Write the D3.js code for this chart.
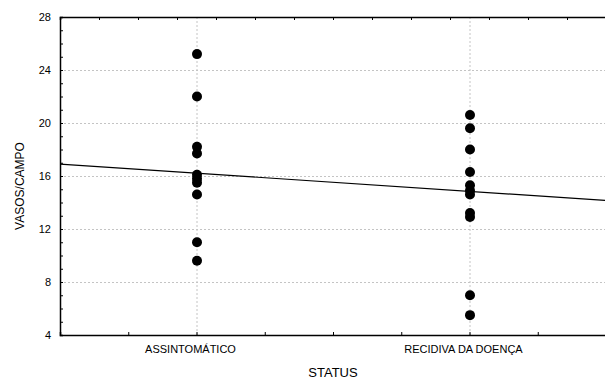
<!DOCTYPE html>
<html>
<head>
<meta charset="utf-8">
<script src="https://cdn.jsdelivr.net/npm/d3@7"></script>
<style>
  body { margin: 0; background: #fff; }
  text { font-family: "Liberation Sans", Arial, sans-serif; fill: #000; }
</style>
</head>
<body>
<div id="chart"></div>
<script>
var width = 605;
var height = 380;

// data
var categories = ["ASSINTOMÁTICO", "RECIDIVA DA DOENÇA"];
var assintomatico = [25.2, 22.0, 18.2, 17.7, 16.1, 15.8, 15.5, 14.6, 11.0, 9.6];
var recidiva = [20.6, 19.6, 18.0, 16.3, 15.3, 14.9, 14.6, 13.2, 12.9, 7.0, 5.5];
var fitX = [-0.5, 1.5];
var fitY = [16.9, 14.15];
var yTicks = [4, 8, 12, 16, 20, 24, 28];

var plotLeft = 60, plotTop = 17, plotRight = 606, plotBottom = 335;

var x = d3.scaleLinear().domain([-0.5, 1.5]).range([plotLeft, plotRight]);
var y = d3.scaleLinear().domain([4, 28]).range([plotBottom, plotTop]);

var svg = d3.select("#chart")
   .append("svg")
   .attr("width", width)
   .attr("height", height);

// grid
svg.append("g")
   .selectAll("line")
   .data(yTicks.slice(1, -1))
   .enter()
   .append("line")
   .attr("x1", plotLeft).attr("x2", plotRight)
   .attr("y1", function(d) { return y(d) + 0.5; })
   .attr("y2", function(d) { return y(d) + 0.5; })
   .attr("stroke", "#c4c4c4")
   .attr("stroke-dasharray", "2,2");

svg.append("g")
   .selectAll("line")
   .data(categories)
   .enter()
   .append("line")
   .attr("x1", function(d, i) { return x(i) + 0.5; })
   .attr("x2", function(d, i) { return x(i) + 0.5; })
   .attr("y1", plotTop).attr("y2", plotBottom)
   .attr("stroke", "#c4c4c4")
   .attr("stroke-dasharray", "2,2");

// axes
var yAxis = d3.axisLeft(y)
   .tickValues(d3.range(4, 29, 1))
   .tickSize(-3)
   .tickPadding(9)
   .tickFormat(function(d) { return d % 4 == 0 ? d : ""; });

svg.append("g")
   .attr("transform", "translate(" + plotLeft + ",0)")
   .call(yAxis)
   .call(function(g) {
      g.select(".domain").attr("stroke", "#000").attr("stroke-width", 1.5);
      g.selectAll("text").attr("font-size", "11px").attr("font-family", "Liberation Sans, Arial, sans-serif");
   });

var xAxis = d3.axisBottom(x)
   .tickValues(d3.range(-0.5, 1.51, 0.25))
   .tickSize(-3)
   .tickFormat("");

svg.append("g")
   .attr("transform", "translate(0," + plotBottom + ")")
   .call(xAxis)
   .call(function(g) {
      g.select(".domain").attr("stroke", "#000").attr("stroke-width", 1.5);
   });

var xTop = d3.axisTop(x)
   .tickValues(d3.range(0, 15).map(function(k) { return -0.5 + k / 7; }))
   .tickSize(-3)
   .tickFormat("");

svg.append("g")
   .attr("transform", "translate(0," + plotTop + ")")
   .call(xTop)
   .call(function(g) {
      g.select(".domain").attr("stroke", "#000").attr("stroke-width", 1.5);
   });

// category labels
svg.append("g")
   .selectAll("text")
   .data(categories)
   .enter()
   .append("text")
   .attr("x", function(d, i) { return x(i) - 6; })
   .attr("y", plotBottom + 18)
   .attr("text-anchor", "middle")
   .attr("font-size", "11px")
   .text(function(d) { return d; });

// titles
svg.append("text")
   .attr("x", 333)
   .attr("y", 377)
   .attr("text-anchor", "middle")
   .attr("font-size", "13px")
   .text("STATUS");

svg.append("text")
   .attr("transform", "translate(24,186) rotate(-90)")
   .attr("text-anchor", "middle")
   .attr("font-size", "12px")
   .text("VASOS/CAMPO");

// fit line
svg.append("line")
   .attr("x1", x(fitX[0])).attr("y1", y(fitY[0]))
   .attr("x2", x(fitX[1])).attr("y2", y(fitY[1]))
   .attr("stroke", "#000")
   .attr("stroke-width", 1.2);

// points
var groups = [assintomatico, recidiva];
groups.forEach(function(vals, i) {
   svg.append("g")
      .selectAll("circle")
      .data(vals)
      .enter()
      .append("circle")
      .attr("cx", x(i) + 0.5)
      .attr("cy", function(d) { return y(d); })
      .attr("r", 5)
      .attr("fill", "#000");
});
</script>
</body>
</html>
